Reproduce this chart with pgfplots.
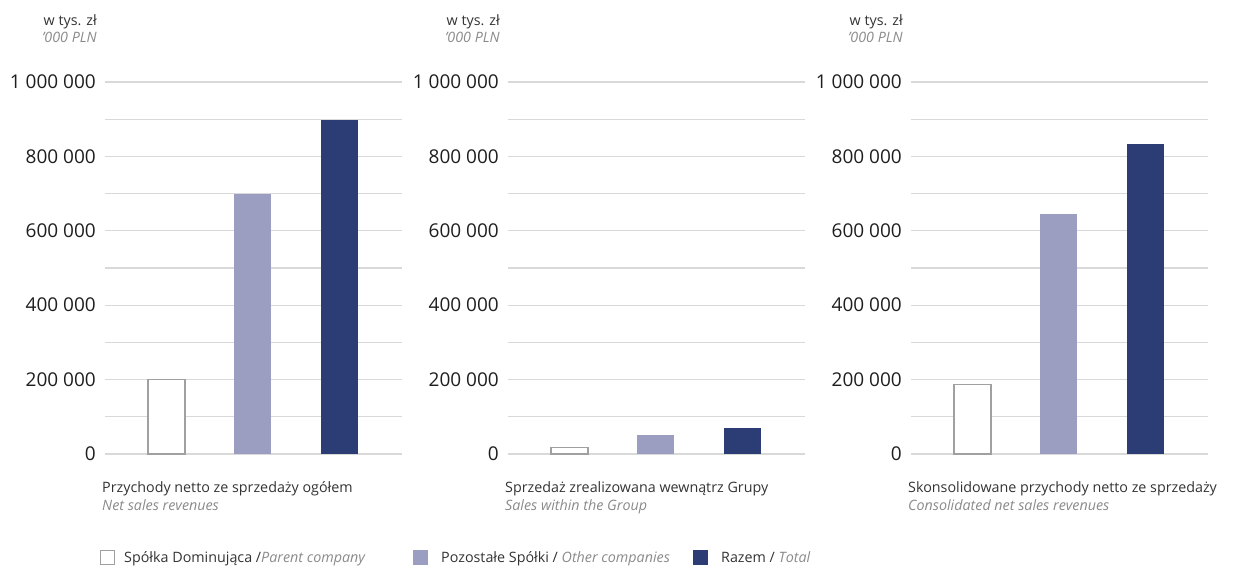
\documentclass[border=0pt]{standalone}
\usepackage{fontspec}
\setmainfont{Open Sans}
\usepackage{pgfplots}
\pgfplotsset{compat=1.18}
\definecolor{lightb}{HTML}{9B9EC0}
\definecolor{darkb}{HTML}{2C3D75}
\definecolor{gridc}{HTML}{D9D9D9}
\definecolor{subc}{HTML}{8A8A8A}
\definecolor{boxc}{HTML}{A0A0A0}
\definecolor{txt}{HTML}{1E1E1E}
\definecolor{txt2}{HTML}{333333}
\newcommand{\tickfont}{\fontsize{19}{22}\selectfont}
\newcommand{\smallfont}{\fontsize{14.3}{16}\selectfont}
\pgfplotsset{
  panel/.style={
    at={(#1pt,113pt)}, anchor=south west,
    scale only axis, width=297pt, height=372pt,
    xmin=0.289, xmax=3.723, ymin=0, ymax=1000000,
    axis line style={draw=none}, major tick length=0pt, minor tick length=0pt,
    xtick=\empty,
    scaled y ticks=false,
    ytick={0,200000,400000,600000,800000,1000000},
    minor ytick={100000,300000,500000,700000,900000},
    yticklabels={0,200 000,400 000,600 000,800 000,1 000 000},
    ymajorgrids, yminorgrids,
    major grid style={gridc, line width=1.2pt},
    minor grid style={gridc, line width=1.2pt},
    yticklabel style={font=\tickfont, text=txt, anchor=east, inner sep=0pt, xshift=-9pt},
    clip=false,
  },
  whitebar/.style={ybar, bar width=37pt, bar shift=0pt, fill=white, draw=boxc, line width=1.1pt},
  lightbar/.style={ybar, bar width=37pt, bar shift=0pt, fill=lightb, draw=none},
  darkbar/.style={ybar, bar width=37pt, bar shift=0pt, fill=darkb, draw=none},
}
\begin{document}
\begin{tikzpicture}[x=1pt,y=1pt]
\path (0,0) rectangle (1248,567);
% panel 1
\begin{axis}[panel=105]
\addplot[whitebar] coordinates {(1,200000)};
\addplot[lightbar] coordinates {(2,698000)};
\addplot[darkbar] coordinates {(3,898000)};
\end{axis}
\begin{axis}[panel=508]
\addplot[whitebar] coordinates {(1,18000)};
\addplot[lightbar] coordinates {(2,52000)};
\addplot[darkbar] coordinates {(3,70000)};
\end{axis}
\begin{axis}[panel=911]
\addplot[whitebar] coordinates {(1,188000)};
\addplot[lightbar] coordinates {(2,645000)};
\addplot[darkbar] coordinates {(3,833000)};
\end{axis}
% unit labels
\foreach \xx in {97,500,903}{
  \node[anchor=base east, inner sep=0pt, font=\smallfont, text=txt2] at (\xx,541) {w tys. zł};
  \node[anchor=base east, inner sep=0pt, font=\smallfont\itshape, text=subc] at (\xx,524) {'000 PLN};
}
% category titles
\node[anchor=base west, inner sep=0pt, font=\smallfont, text=txt2] at (102,74) {Przychody netto ze sprzedaży ogółem};
\node[anchor=base west, inner sep=0pt, font=\smallfont\itshape, text=subc] at (102,56) {Net sales revenues};
\node[anchor=base west, inner sep=0pt, font=\smallfont, text=txt2] at (505,74) {Sprzedaż zrealizowana wewnątrz Grupy};
\node[anchor=base west, inner sep=0pt, font=\smallfont\itshape, text=subc] at (505,56) {Sales within the Group};
\node[anchor=base west, inner sep=0pt, font=\smallfont, text=txt2] at (908,74) {Skonsolidowane przychody netto ze sprzedaży};
\node[anchor=base west, inner sep=0pt, font=\smallfont\itshape, text=subc] at (908,56) {Consolidated net sales revenues};
% legend
\draw[boxc, line width=1pt, fill=white] (100.5,2.5) rectangle (114.5,16.5);
\node[anchor=base west, inner sep=0pt, font=\smallfont, text=txt2] at (124,4) {Spółka Dominująca /\textcolor{subc}{\itshape Parent company}};
\fill[lightb] (413,2) rectangle (428,17);
\node[anchor=base west, inner sep=0pt, font=\smallfont, text=txt2] at (441,4) {Pozostałe Spółki / \textcolor{subc}{\itshape Other companies}};
\fill[darkb] (693,2) rectangle (708,17);
\node[anchor=base west, inner sep=0pt, font=\smallfont, text=txt2] at (721,4) {Razem / \textcolor{subc}{\itshape Total}};
\end{tikzpicture}
\end{document}
